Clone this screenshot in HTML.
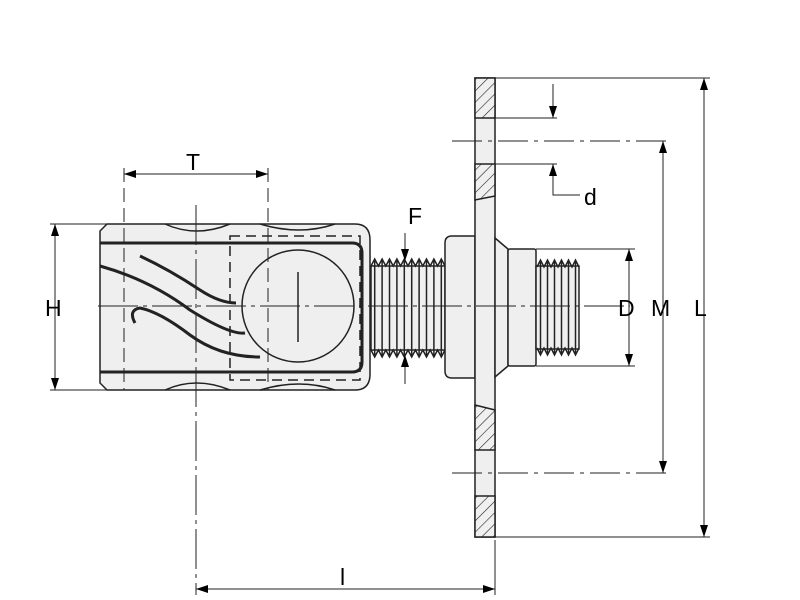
<!DOCTYPE html>
<html><head><meta charset="utf-8"><style>
html,body{margin:0;padding:0;background:#fff;}
svg{display:block;}
text{font-family:"Liberation Sans",sans-serif;font-size:23px;fill:#000;}
</style></head><body>
<svg id="s" width="800" height="600" viewBox="0 0 800 600" xmlns="http://www.w3.org/2000/svg">
<defs>
<pattern id="h" width="8" height="8" patternUnits="userSpaceOnUse" patternTransform="rotate(45)">
<rect width="8" height="8" fill="#f0f0f0"/><line x1="0" y1="0" x2="0" y2="8" stroke="#222" stroke-width="1.2"/>
</pattern>
<marker id="a" markerWidth="12" markerHeight="8" refX="12" refY="4" orient="auto-start-reverse" markerUnits="userSpaceOnUse"><path d="M0,0 L12,4 L0,8z" fill="#000"/></marker>
</defs>
<g stroke="#222" stroke-width="1.5" fill="#efefef">
<path d="M107,224 H355 Q370,224 370,240 V374 Q370,390 355,390 H107 L100,383 V231 Z"/>
<path d="M165,224 Q196,238 230,224 M260,224 Q300,236 335,224 M165,390 Q196,376 230,390 M260,390 Q300,378 335,390" fill="none"/>
<path d="M100,243 H352 Q362,243 362,253 V362 Q362,372 352,372 H100" fill="none" stroke-width="3"/>
<circle cx="298" cy="306" r="56" fill="#efefef"/>
<line x1="298" y1="272" x2="298" y2="342"/>
<rect x="230" y="236" width="130" height="144" fill="none" stroke-dasharray="10,6"/>
<path d="M100,266 Q150,280 190,310 Q230,335 245,333" fill="none" stroke-width="3"/>
<path d="M140,256 Q170,270 200,290 Q220,303 236,303" fill="none" stroke-width="3"/>
<path d="M135,323 Q128,310 140,308 Q160,312 190,335 Q220,357 260,357" fill="none" stroke-width="3"/>
<rect x="371" y="266" width="74" height="84"/>
<path id="lt" fill="none"/>
<path d="M452,236 H475 V378 H452 Q445,378 445,371 V243 Q445,236 452,236 Z"/>
<rect x="475" y="78" width="20" height="459"/>
<path d="M475,78 H495 V118 H475 Z M475,164 H495 V196 L475,200 Z M475,405 L495,410 V450 H475 Z M475,496 H495 V537 H475 Z" fill="url(#h)"/>
<path d="M495,238 L508,249 V366 L495,377 Z"/>
<rect x="508" y="249" width="28" height="117" rx="2"/>
<rect x="536" y="266" width="43" height="83"/>
<path id="rt" fill="none"/>
</g>
<g stroke="#222" stroke-width="1" fill="none">
<path d="M98,306 H630" stroke-dasharray="40,5,4,5"/>
<path d="M196,205 V590" stroke-dasharray="40,5,4,5"/>
<path d="M452,141 H670 M452,473 H670" stroke-dasharray="30,6,4,6"/>
<path d="M124,168 V390 M268,168 V390" stroke-dasharray="14,6"/>
<path d="M50,224 H107 M50,390 H107"/>
<path d="M495,78 H710 M495,537 H710 M536,249 H635 M536,366 H635 M495,118 H557 M495,164 H557"/>
<path d="M495,540 V595 M196,590 V595"/>
<line x1="124" y1="174" x2="268" y2="174" marker-start="url(#a)" marker-end="url(#a)"/>
<line x1="55" y1="224" x2="55" y2="390" marker-start="url(#a)" marker-end="url(#a)"/>
<line x1="405" y1="233" x2="405" y2="261" marker-end="url(#a)"/>
<line x1="405" y1="384" x2="405" y2="355" marker-end="url(#a)"/>
<line x1="629" y1="249" x2="629" y2="366" marker-start="url(#a)" marker-end="url(#a)"/>
<line x1="663" y1="141" x2="663" y2="473" marker-start="url(#a)" marker-end="url(#a)"/>
<line x1="704" y1="78" x2="704" y2="537" marker-start="url(#a)" marker-end="url(#a)"/>
<line x1="196" y1="589" x2="495" y2="589" marker-start="url(#a)" marker-end="url(#a)"/>
<line x1="553" y1="84" x2="553" y2="118" marker-end="url(#a)"/>
<polyline points="580,195 553,195 553,164" marker-end="url(#a)"/>
</g>
<text x="186" y="170">T</text>
<text x="45" y="316">H</text>
<text x="408" y="224">F</text>
<text x="618" y="316">D</text>
<text x="651" y="316">M</text>
<text x="694" y="316">L</text>
<text x="584" y="205">d</text>
<text x="340" y="585">l</text>
</svg>
<script>
function thr(x0,x1,yt,yb,n){var p=(x1-x0)/n,h=7,d="M"+x0+","+(yt+h);for(var i=0;i<n;i++){var a=x0+i*p;d+=" L"+(a+p/2)+","+yt+" L"+(a+p)+","+(yt+h);}
d+=" M"+x0+","+(yb-h);for(var i=0;i<n;i++){var a=x0+i*p;d+=" L"+(a+p/2)+","+yb+" L"+(a+p)+","+(yb-h);}
for(var i=0;i<n;i++){var a=x0+i*p+p/2;d+=" M"+a+","+yt+" V"+yb;}return d;}
document.getElementById("lt").setAttribute("d",thr(371,445,259,357,10));
document.getElementById("rt").setAttribute("d",thr(537,579,260,355,6));
</script>
</body></html>
